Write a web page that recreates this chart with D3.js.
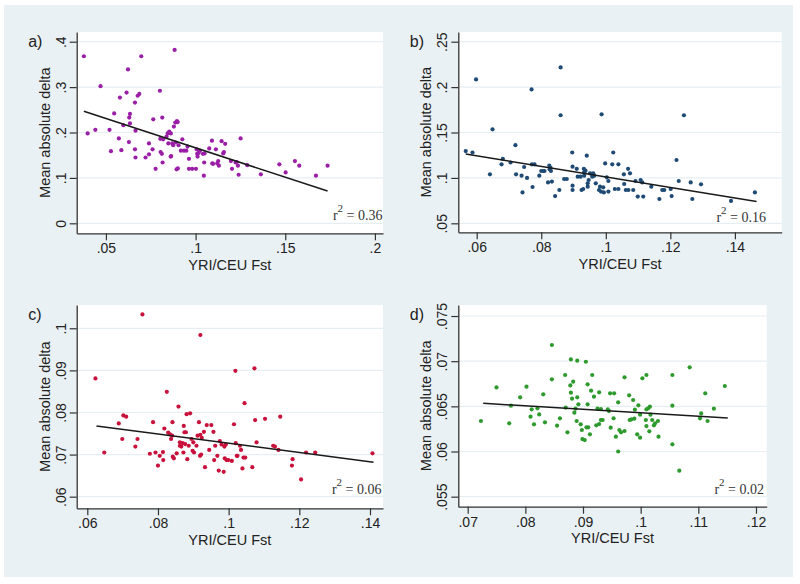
<!DOCTYPE html>
<html>
<head>
<meta charset="utf-8">
<script src="https://cdn.jsdelivr.net/npm/d3@7/dist/d3.min.js"></script>
<style>
html,body{margin:0;padding:0;background:#fff;}
svg{display:block;}
</style>
</head>
<body>
<svg id="chart" width="800" height="584"></svg>
<script>
// ---------- DATA ----------
const panelLabels = ["a)", "b)", "c)", "d)"];
const xTitle = "YRI/CEU Fst";
const yTitle = "Mean absolute delta";
const r2Values = ["0.36", "0.16", "0.06", "0.02"];

// Panel a
const aX = [0.0377,0.0398,0.0441,0.047,0.052,0.0528,0.0546,0.0572,0.0578,0.0586,0.0597,0.0615,0.0623,0.0628,0.063,0.0634,0.0634,0.0662,0.0662,0.0665,0.0665,0.0677,0.0686,0.0697,0.0721,0.074,0.074,0.0764,0.076,0.0777,0.0801,0.0803,0.0805,0.0812,0.0814,0.0816,0.0819,0.0838,0.0844,0.0848,0.0853,0.0861,0.0862,0.0864,0.087,0.0875,0.0879,0.0883,0.0887,0.089,0.0894,0.0896,0.09,0.0901,0.0905,0.0918,0.0926,0.0935,0.0948,0.0955,0.0963,0.0963,0.0981,0.1002,0.1006,0.1009,0.1011,0.1017,0.1024,0.1041,0.1046,0.1048,0.105,0.1076,0.1091,0.1093,0.1098,0.1113,0.1121,0.1126,0.113,0.1145,0.1154,0.1158,0.1165,0.1197,0.1203,0.1223,0.1229,0.1236,0.124,0.1251,0.1288,0.1364,0.1467,0.1502,0.1554,0.1578,0.1671,0.1736];
const aY = [0.368,0.198,0.206,0.302,0.206,0.159,0.242,0.187,0.277,0.161,0.216,0.288,0.339,0.179,0.233,0.241,0.220,0.266,0.163,0.204,0.145,0.281,0.285,0.368,0.145,0.176,0.152,0.229,0.163,0.120,0.292,0.186,0.157,0.153,0.233,0.134,0.185,0.191,0.198,0.176,0.202,0.147,0.198,0.148,0.176,0.172,0.213,0.382,0.222,0.178,0.119,0.225,0.223,0.121,0.172,0.160,0.185,0.160,0.160,0.169,0.142,0.120,0.120,0.120,0.163,0.153,0.147,0.155,0.160,0.153,0.105,0.134,0.154,0.165,0.182,0.132,0.131,0.163,0.132,0.137,0.127,0.181,0.154,0.157,0.175,0.137,0.120,0.134,0.135,0.127,0.107,0.187,0.128,0.108,0.130,0.112,0.137,0.127,0.105,0.127];
const aFitX = [0.0377, 0.1736];
const aFitY = [0.247, 0.071];
const aXTicks = [0.05, 0.1, 0.15, 0.2];
const aXTickLabels = [".05", ".1", ".15", ".2"];
const aYTicks = [0, 0.1, 0.2, 0.3, 0.4];
const aYTickLabels = ["0", ".1", ".2", ".3", ".4"];

// Panel b
const bX = [0.0566,0.0587,0.0598,0.0641,0.0649,0.0677,0.0681,0.0705,0.072,0.0722,0.0739,0.0742,0.0747,0.0756,0.077,0.0771,0.0773,0.0779,0.0794,0.08,0.0806,0.081,0.0821,0.0825,0.0826,0.0829,0.083,0.0833,0.0843,0.0856,0.086,0.086,0.0871,0.0879,0.0896,0.0897,0.0897,0.0897,0.091,0.0913,0.0922,0.0925,0.093,0.0932,0.0933,0.0933,0.0937,0.0941,0.0944,0.0944,0.0947,0.0951,0.0957,0.0958,0.0961,0.0964,0.0969,0.0979,0.0982,0.0985,0.0987,0.0992,0.0994,0.0998,0.1003,0.1008,0.1008,0.102,0.1023,0.1028,0.1039,0.1039,0.1056,0.1057,0.1062,0.1069,0.107,0.1075,0.1085,0.1092,0.1099,0.1108,0.1113,0.1116,0.1141,0.1166,0.1175,0.1181,0.1201,0.1204,0.1219,0.1226,0.1242,0.1263,0.1268,0.1295,0.1388,0.1462];
const bY = [0.1296,0.128,0.2085,0.104,0.1535,0.115,0.121,0.117,0.136,0.104,0.1025,0.084,0.112,0.100,0.1975,0.115,0.090,0.115,0.1025,0.1076,0.1076,0.1076,0.095,0.1135,0.1095,0.111,0.1076,0.096,0.080,0.0867,0.2217,0.169,0.0988,0.0988,0.128,0.1124,0.0915,0.0867,0.110,0.1014,0.1014,0.0867,0.0878,0.110,0.1061,0.1025,0.108,0.1245,0.0904,0.094,0.0977,0.105,0.1043,0.1014,0.105,0.1025,0.094,0.0867,0.0904,0.0849,0.170,0.0896,0.084,0.116,0.1006,0.0849,0.0966,0.115,0.128,0.0878,0.115,0.0878,0.104,0.0933,0.0867,0.110,0.0867,0.105,0.0867,0.0966,0.0794,0.0977,0.095,0.0794,0.0904,0.0768,0.0867,0.0867,0.0878,0.080,0.1197,0.0966,0.169,0.095,0.0768,0.0929,0.0746,0.084];
const bFitX = [0.0566, 0.1467];
const bFitY = [0.1263, 0.0739];
const bXTicks = [0.06, 0.08, 0.1, 0.12, 0.14];
const bXTickLabels = [".06", ".08", ".1", ".12", ".14"];
const bYTicks = [0.05, 0.1, 0.15, 0.2, 0.25];
const bYTickLabels = [".05", ".1", ".15", ".2", ".25"];

// Panel c
const cX = [0.0623,0.0648,0.0689,0.0699,0.0702,0.071,0.0736,0.0742,0.0756,0.0777,0.0786,0.0793,0.08,0.0805,0.0814,0.0815,0.0818,0.0825,0.0829,0.0834,0.0837,0.084,0.0841,0.0842,0.0845,0.0853,0.0858,0.0862,0.0862,0.0866,0.087,0.0872,0.0873,0.0875,0.0877,0.0879,0.0881,0.0883,0.0887,0.0891,0.0895,0.0898,0.09,0.0902,0.0909,0.0912,0.0916,0.0919,0.092,0.092,0.0922,0.0924,0.093,0.0933,0.0938,0.0945,0.0951,0.0957,0.0959,0.0962,0.0968,0.0972,0.0975,0.098,0.0986,0.0988,0.0989,0.0992,0.0994,0.0999,0.1009,0.1015,0.1019,0.102,0.1023,0.1025,0.1032,0.1035,0.1039,0.1042,0.1045,0.1047,0.1067,0.1073,0.1075,0.1079,0.1103,0.1126,0.1131,0.1141,0.1146,0.1179,0.1181,0.1205,0.1219,0.1245,0.1407];
const cY = [0.0881,0.0705,0.0774,0.0737,0.0793,0.079,0.0719,0.0737,0.1033,0.0702,0.0777,0.0705,0.0674,0.0697,0.0706,0.0687,0.0762,0.0849,0.0752,0.0748,0.0737,0.0745,0.0777,0.0695,0.0691,0.0703,0.0814,0.0721,0.0729,0.0719,0.0727,0.0705,0.0768,0.0753,0.0725,0.0753,0.0796,0.0689,0.0721,0.0798,0.0737,0.0709,0.0729,0.0705,0.0721,0.0745,0.0777,0.0697,0.0984,0.0747,0.07,0.074,0.0754,0.067,0.077,0.0711,0.077,0.0754,0.0687,0.0721,0.0697,0.0662,0.0732,0.0724,0.0659,0.0719,0.0691,0.0724,0.0687,0.0687,0.0685,0.0772,0.0899,0.0727,0.0697,0.0697,0.0721,0.0711,0.0667,0.0693,0.0822,0.0693,0.067,0.0905,0.0782,0.0729,0.0785,0.0721,0.0719,0.0711,0.079,0.0674,0.0689,0.0641,0.0705,0.0705,0.0703];
const cFitX = [0.0626, 0.141];
const cFitY = [0.0768, 0.0682];
const cXTicks = [0.06, 0.08, 0.1, 0.12, 0.14];
const cXTickLabels = [".06", ".08", ".1", ".12", ".14"];
const cYTicks = [0.06, 0.07, 0.08, 0.09, 0.1];
const cYTickLabels = [".06", ".07", ".08", ".09", ".1"];

// Panel d
const dX = [0.0723,0.075,0.0775,0.0772,0.0791,0.0802,0.0809,0.0811,0.0815,0.0821,0.0824,0.0831,0.0834,0.0846,0.0846,0.0855,0.086,0.0869,0.087,0.0873,0.0878,0.0879,0.0879,0.0881,0.0883,0.0885,0.0887,0.0889,0.089,0.089,0.0892,0.0896,0.0898,0.0899,0.0903,0.0905,0.0906,0.0908,0.0908,0.0909,0.0912,0.0914,0.0916,0.0919,0.0923,0.0925,0.0928,0.0928,0.0931,0.0931,0.0934,0.0943,0.0945,0.0947,0.0948,0.0954,0.0953,0.0957,0.0961,0.0961,0.0963,0.0966,0.0972,0.0972,0.098,0.0981,0.0984,0.0987,0.0989,0.099,0.0994,0.0996,0.0999,0.0999,0.1003,0.1009,0.101,0.101,0.101,0.1013,0.1015,0.1016,0.1017,0.102,0.1023,0.1025,0.103,0.1031,0.1055,0.1055,0.1055,0.1067,0.1085,0.1103,0.1105,0.1112,0.1116,0.1127,0.1146];
const dY = [0.06338,0.0671,0.06507,0.06312,0.0660,0.06718,0.06386,0.06467,0.06301,0.06478,0.06411,0.06633,0.06323,0.07179,0.06799,0.06286,0.06367,0.06847,0.06485,0.06212,0.06732,0.06651,0.0702,0.06585,0.06773,0.0643,0.06474,0.06338,0.066,0.07006,0.06522,0.06301,0.06238,0.06138,0.06127,0.06994,0.06268,0.06744,0.06522,0.06268,0.0619,0.06673,0.06847,0.06607,0.0629,0.06474,0.06655,0.06304,0.0647,0.06349,0.06349,0.06467,0.06448,0.06644,0.06264,0.06644,0.06367,0.06164,0.06544,0.0600,0.06238,0.06212,0.06821,0.06227,0.06622,0.06349,0.06356,0.0657,0.06363,0.06463,0.0619,0.06511,0.06153,0.06408,0.0681,0.06349,0.06282,0.06847,0.06467,0.06478,0.06223,0.06496,0.06408,0.06349,0.0629,0.06312,0.06338,0.06164,0.06847,0.06507,0.06079,0.05788,0.06932,0.06367,0.06422,0.06644,0.06338,0.06474,0.06725];
const dFitX = [0.0727, 0.1151];
const dFitY = [0.06533, 0.06371];
const dXTicks = [0.07, 0.08, 0.09, 0.1, 0.11, 0.12];
const dXTickLabels = [".07", ".08", ".09", ".1", ".11", ".12"];
const dYTicks = [0.055, 0.06, 0.065, 0.07, 0.075];
const dYTickLabels = [".055", ".06", ".065", ".07", ".075"];

// ---------- LAYOUT / STYLE ----------
const layout = [
  {x0:76.7, x1:383, y0:32, y1:233.3, xd:[0.0337,0.2045], yd:[-0.022,0.4214], color:"#9a1fa6", r2x:382.5, r2y:220},
  {x0:458.3, x1:781.7, y0:32, y1:232.3, xd:[0.0543,0.1545], yd:[0.0401,0.2607], color:"#1f4a74", r2x:766, r2y:221.5},
  {x0:76.7, x1:383, y0:305, y1:508.3, xd:[0.057,0.14368], yd:[0.05724,0.10553], color:"#c8123c", r2x:381.5, r2y:494},
  {x0:458.3, x1:766.7, y0:305, y1:506.7, xd:[0.06837,0.12186], yd:[0.05389,0.07622], color:"#2e9a2e", r2x:764, r2y:494}
];
const series = [
  {x:aX, y:aY, fx:aFitX, fy:aFitY, xt:aXTicks, xtl:aXTickLabels, yt:aYTicks, ytl:aYTickLabels},
  {x:bX, y:bY, fx:bFitX, fy:bFitY, xt:bXTicks, xtl:bXTickLabels, yt:bYTicks, ytl:bYTickLabels},
  {x:cX, y:cY, fx:cFitX, fy:cFitY, xt:cXTicks, xtl:cXTickLabels, yt:cYTicks, ytl:cYTickLabels},
  {x:dX, y:dY, fx:dFitX, fy:dFitY, xt:dXTicks, xtl:dXTickLabels, yt:dYTicks, ytl:dYTickLabels}
];

const sansFont = "'Liberation Sans', Arial, Helvetica, sans-serif";
const serifFont = "'Liberation Serif', 'Times New Roman', serif";
const textColor = "#222";
const axisColor = "#333";

const svg = d3.select("#chart");
svg.append("rect").attr("x",0).attr("y",0).attr("width",800).attr("height",584).attr("fill","#ffffff");
svg.append("rect").attr("x",4).attr("y",5).attr("width",789).attr("height",572).attr("fill","#eaf1f4");

layout.forEach((L, i) => {
  const S = series[i];
  const g = svg.append("g");
  const xs = d3.scaleLinear().domain(L.xd).range([L.x0, L.x1]);
  const ys = d3.scaleLinear().domain(L.yd).range([L.y1, L.y0]);

  // plot region
  g.append("rect").attr("x", L.x0).attr("y", L.y0)
    .attr("width", L.x1 - L.x0).attr("height", L.y1 - L.y0).attr("fill", "#fff");

  // gridlines
  g.append("g").selectAll("line").data(S.yt).join("line")
    .attr("x1", L.x0).attr("x2", L.x1)
    .attr("y1", d => ys(d)).attr("y2", d => ys(d))
    .attr("stroke", "#e6eef2").attr("stroke-width", 1.2);

  // points
  g.append("g").selectAll("circle").data(S.x.map((v, k) => [v, S.y[k]])).join("circle")
    .attr("cx", d => xs(d[0])).attr("cy", d => ys(d[1]))
    .attr("r", 2.1).attr("fill", L.color);

  // fit line
  g.append("line")
    .attr("x1", xs(S.fx[0])).attr("y1", ys(S.fy[0]))
    .attr("x2", xs(S.fx[1])).attr("y2", ys(S.fy[1]))
    .attr("stroke", "#1a1a1a").attr("stroke-width", 1.5);

  // x axis
  const xa = g.append("g").attr("transform", `translate(0,${L.y1})`)
    .call(d3.axisBottom(xs).tickValues(S.xt).tickSize(7).tickSizeOuter(0)
      .tickFormat((d, k) => S.xtl[k]));
  xa.select(".domain").attr("stroke", axisColor).attr("stroke-width", 1.3);
  xa.selectAll(".tick line").attr("stroke", axisColor).attr("stroke-width", 1.2);
  xa.selectAll(".tick text").attr("font-family", sansFont).attr("font-size", 14)
    .attr("fill", textColor).attr("y", 10);

  // y axis
  const ya = g.append("g").attr("transform", `translate(${L.x0},0)`)
    .call(d3.axisLeft(ys).tickValues(S.yt).tickSize(7).tickSizeOuter(0)
      .tickFormat((d, k) => S.ytl[k]));
  ya.select(".domain").attr("stroke", axisColor).attr("stroke-width", 1.3);
  ya.selectAll(".tick line").attr("stroke", axisColor).attr("stroke-width", 1.2);
  ya.selectAll(".tick text").attr("font-family", sansFont).attr("font-size", 14)
    .attr("fill", textColor)
    .attr("transform", "rotate(-90)")
    .attr("text-anchor", "middle").attr("x", 0).attr("y", -11).attr("dy", 0);

  // axis titles
  g.append("text").attr("x", (L.x0 + L.x1) / 2).attr("y", L.y1 + 36.5)
    .attr("text-anchor", "middle").attr("font-family", sansFont)
    .attr("font-size", 14.5).attr("fill", textColor).text(xTitle);
  g.append("text")
    .attr("transform", `translate(${L.x0 - 27},${(L.y0 + L.y1) / 2}) rotate(-90)`)
    .attr("text-anchor", "middle").attr("font-family", sansFont)
    .attr("font-size", 14.5).attr("fill", textColor).text(yTitle);

  // panel label
  g.append("text").attr("x", L.x0 - 48.5).attr("y", L.y0 + 15)
    .attr("font-family", sansFont).attr("font-size", 16).attr("fill", textColor)
    .text(panelLabels[i]);

  // r^2 label
  const t = g.append("text").attr("x", L.r2x).attr("y", L.r2y)
    .attr("text-anchor", "end").attr("font-family", serifFont)
    .attr("font-size", 14).attr("fill", "#333");
  t.append("tspan").text("r");
  t.append("tspan").attr("dy", -8).attr("font-size", 11).text("2");
  t.append("tspan").attr("dy", 8).text(" = " + r2Values[i]);
});
</script>
</body>
</html>
